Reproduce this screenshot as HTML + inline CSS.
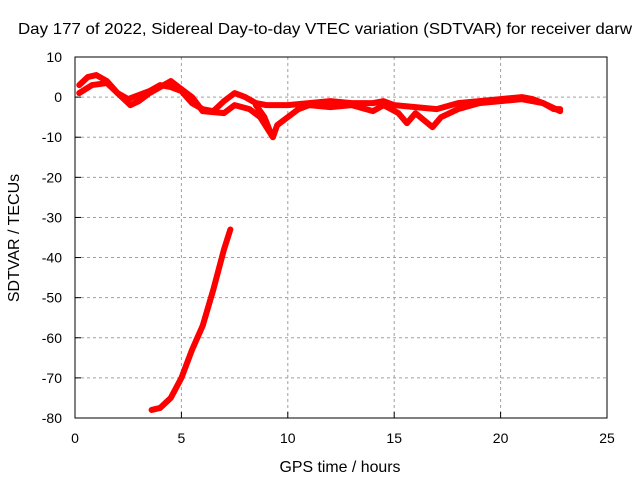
<!DOCTYPE html>
<html><head><meta charset="utf-8"><style>
body{margin:0;background:#fff}
svg text{font-family:"Liberation Sans",sans-serif;font-size:14px;fill:#000}
svg text.big{font-size:16px}
</style></head><body>
<svg id="c" width="640" height="480">
<text class="big" x="18" y="34" textLength="614" lengthAdjust="spacingAndGlyphs">Day 177 of 2022, Sidereal Day-to-day VTEC variation (SDTVAR) for receiver darw</text>
<text class="big" x="340" y="472" text-anchor="middle" textLength="121" lengthAdjust="spacingAndGlyphs">GPS time / hours</text>
<text class="big" transform="translate(19,238) rotate(-90)" text-anchor="middle">SDTVAR / TECUs</text>
<g id="grid"></g><g id="marks"></g>
<rect x="75" y="57" width="532" height="361" fill="none" stroke="#000" stroke-width="1"/>
</svg>
<script>
const xTicks=[0,5,10,15,20,25];
const yTicks=[10,0,-10,-20,-30,-40,-50,-60,-70,-80];
const seriesA_x=[0.2,0.6,1,1.5,2,2.5,3,3.5,4,4.5,5,5.5,6,6.5,7,7.5,8,8.5,9,10,11,12,13,14,14.5,15,16,17,18,19,20,21,21.5,22,22.5,22.8];
const seriesA_y=[3,5,5.5,4,1,-0.5,0.5,1.5,3,2.5,1.5,-1.5,-3,-3.5,-1,1,0,-1.5,-2,-2,-1.5,-1,-1.5,-1.5,-1,-2,-2.5,-3,-1.5,-1,-0.5,0,-0.5,-1.5,-3,-3];
const seriesB_x=[0.2,0.8,1.5,2,2.6,3,3.5,4,4.5,5,5.5,6,7,7.5,8.2,8.7,9.3,9.5,10,10.5,11,12,13,14,14.5,15.2,15.6,16,16.8,17.2,18,19,20,21,22,22.8];
const seriesB_y=[1,3,3.5,1,-2,-1,1,2.5,4,2,0,-3.5,-4,-2,-3,-5,-10,-7,-5,-3,-2,-2.5,-2,-3.5,-2,-4,-6.5,-4,-7.5,-5,-3,-1.5,-1,-0.5,-1.5,-3.5];
const seriesC_x=[8.5,8.9,9.2];
const seriesC_y=[-2,-5,-9];
const seriesD_x=[3.6,4,4.5,5,5.5,6,6.5,7,7.3];
const seriesD_y=[-78,-77.5,-75,-70,-63,-57,-48,-38,-33];
const X=v=>75+v*532/25, Y=v=>57+(10-v)*361/90;
const NS="http://www.w3.org/2000/svg";
const g=document.getElementById('grid'), m=document.getElementById('marks'), svg=document.getElementById('c');
xTicks.forEach(t=>{
  if(t>0&&t<25){const l=document.createElementNS(NS,'line');l.setAttribute('x1',X(t));l.setAttribute('x2',X(t));l.setAttribute('y1',57);l.setAttribute('y2',418);l.setAttribute('stroke','#a0a0a0');l.setAttribute('stroke-dasharray','3,3');
  
  g.appendChild(l);}
  const tk=document.createElementNS(NS,'line');tk.setAttribute('x1',X(t));tk.setAttribute('x2',X(t));tk.setAttribute('y1',418);tk.setAttribute('y2',412);tk.setAttribute('stroke','#000');
  
  g.appendChild(tk);
  const tx=document.createElementNS(NS,'text');tx.setAttribute('x',X(t));tx.setAttribute('y',443);tx.setAttribute('text-anchor','middle');tx.textContent=t;
  
  svg.appendChild(tx);
});
yTicks.forEach(t=>{
  if(t<10&&t>-80){const l=document.createElementNS(NS,'line');l.setAttribute('x1',75);l.setAttribute('x2',607);l.setAttribute('y1',Y(t));l.setAttribute('y2',Y(t));l.setAttribute('stroke','#a0a0a0');l.setAttribute('stroke-dasharray','3,3');
  
  g.appendChild(l);}
  const tk=document.createElementNS(NS,'line');tk.setAttribute('x1',75);tk.setAttribute('x2',81);tk.setAttribute('y1',Y(t));tk.setAttribute('y2',Y(t));tk.setAttribute('stroke','#000');
  
  g.appendChild(tk);
  const tx=document.createElementNS(NS,'text');tx.setAttribute('x',62);tx.setAttribute('y',Y(t)+5);tx.setAttribute('text-anchor','end');tx.textContent=t;
  
  svg.appendChild(tx);
});
function draw(xs,ys,name){
  const p=document.createElementNS(NS,'polyline');
  p.setAttribute('points',xs.map((x,i)=>X(x)+','+Y(ys[i])).join(' '));
  p.setAttribute('fill','none');p.setAttribute('stroke','#ff0000');p.setAttribute('stroke-width','6');p.setAttribute('stroke-linejoin','round');p.setAttribute('stroke-linecap','round');
  
  
  m.appendChild(p);
}
draw(seriesA_x,seriesA_y,'sdtvar-series-upper');
draw(seriesB_x,seriesB_y,'sdtvar-series-lower');
draw(seriesC_x,seriesC_y,'sdtvar-series-spur');
draw(seriesD_x,seriesD_y,'sdtvar-series-descent');
</script>
</body></html>
